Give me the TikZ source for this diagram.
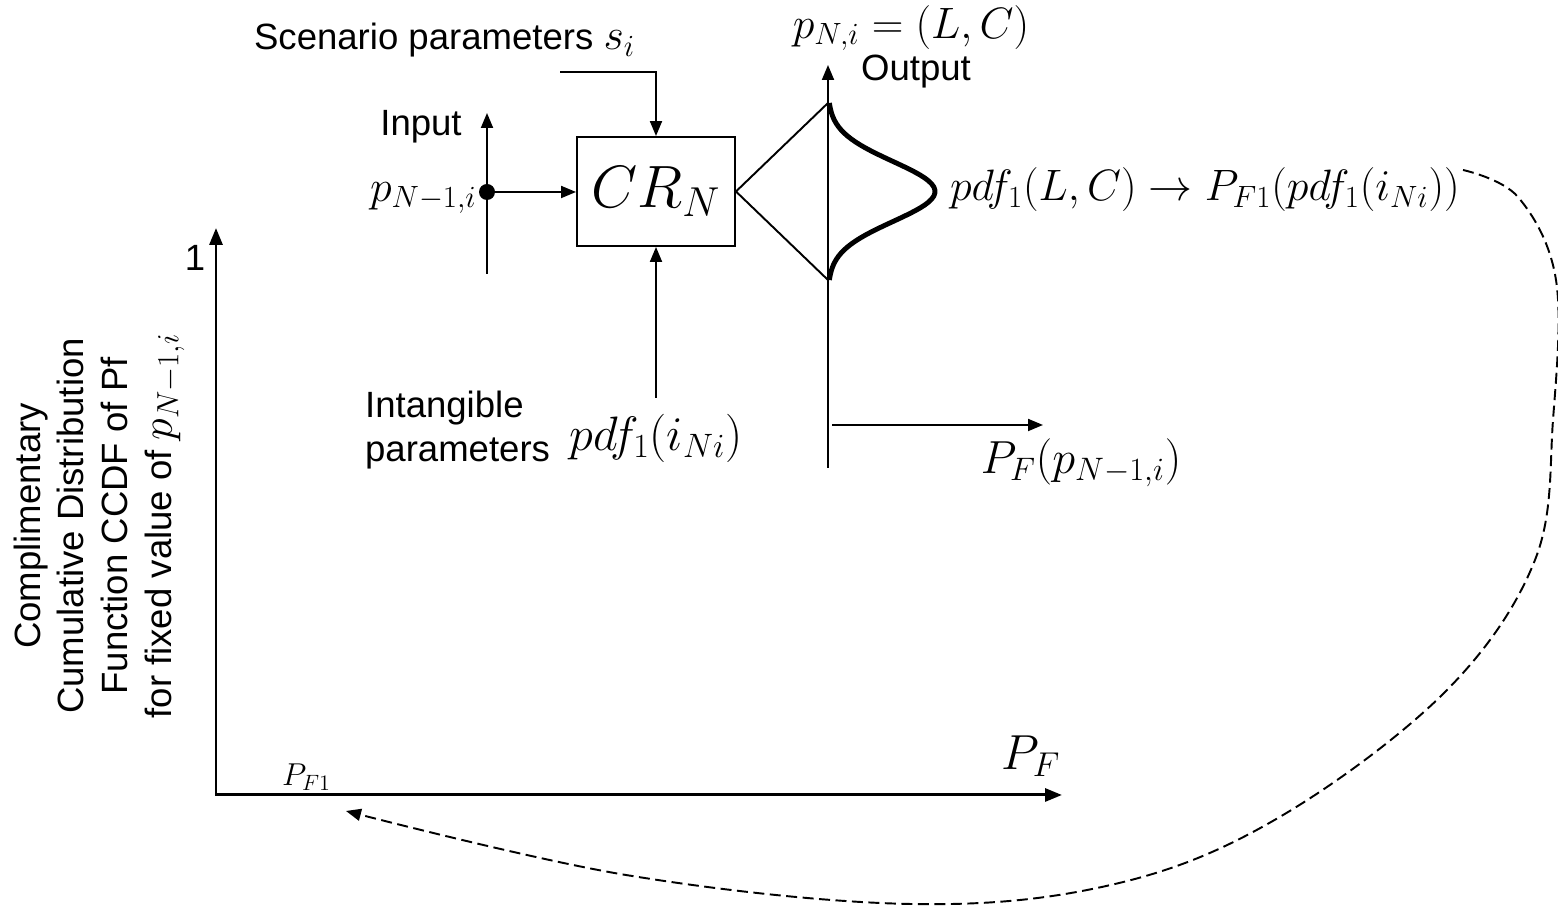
\RequirePackage{fix-cm}
\documentclass[tikz,border=0pt]{standalone}
\usepackage{fontspec}
\setmainfont{Liberation Sans}
\usepackage{amsmath}
\usetikzlibrary{shapes, arrows.meta, positioning, calc}

\begin{document}
\begin{tikzpicture}[
    box/.style={rectangle, draw=black, line width=1.1pt, minimum width=3.16cm, minimum height=2.18cm, text centered, inner sep=0pt},
    txt/.style={inner sep=1pt, font=\fontsize{20.8}{25}\selectfont},
    mth/.style={inner sep=1pt, font=\fontsize{25}{30}\selectfont},
    wire/.style={line width=1.1pt},
    arrow/.style={-{Triangle[length=3mm, width=2.4mm]}, line width=1.1pt},
    axis/.style={{Triangle[length=3.4mm, width=2.6mm]}-{Triangle[length=3.4mm, width=2.6mm]}, line width=1.7pt},
    dasharrow/.style={-{Triangle[length=3mm, width=2.4mm]}, line width=1.1pt, dash pattern=on 0.22cm off 0.11cm}
]
\useasboundingbox (0,0) rectangle (31.16,18.16);

% block and its inputs
\node (crn) [box] at (13.12,14.33) {\fontsize{34}{40}\selectfont $CR_N$};
\node (dot) [circle, fill=black, inner sep=0pt, minimum size=0.32cm] at (9.74,14.32) {};
\coordinate (inbot) at (9.74,12.68);
\coordinate (intop) at (9.74,15.9);
\node (inlbl) [txt] at (8.42,15.62) {Input};
\node (pin) [mth, left=0pt of dot, yshift=-0.12cm] {$p_{N-1,i}$};
\node (scen) [txt, anchor=west] at (5.04,17.36) {Scenario parameters {\fontsize{25}{30}\selectfont$s_i$}};
\coordinate (scenstart) at (11.2,16.72);
\coordinate (intbot) at (13.12,10.2);
\node (intlbl) [txt, align=left, anchor=west] at (7.26,9.55) {Intangible\\parameters};
\node (pdfi) [mth, font=\fontsize{27.5}{32}\selectfont] at (13.12,9.4) {$pdf_1(i_{Ni})$};
\draw [arrow] (inbot) -- (intop);
\draw [arrow] (dot) -- (dot -| crn.west);
\draw [arrow] (scenstart) -| (crn.north);
\draw [arrow] (intbot) -- (crn.south);

% output side
\coordinate (outbot) at (16.56,8.8);
\coordinate (outtop) at (16.56,16.86);
\coordinate (tritop) at (16.56,16.1);
\coordinate (tribot) at (16.56,12.56);
\draw [arrow] (outbot) -- (outtop);
\draw [wire] (tritop) -- (crn.east) -- (tribot);
\draw [line width=2.8pt] plot [variable=\t, domain=-1.77:1.77, samples=60] ({16.56+2.14*exp(-(\t/0.85)^2)}, {14.33+\t});
\node (outlbl) [txt] at (18.32,16.72) {Output};
\node (pni) [mth] at (18.22,17.6) {$p_{N,i} = (L,C)$};
\node (pdflc) [mth, anchor=west] at (18.96,14.36) {$pdf_1(L,C) \rightarrow P_{F1}(pdf_1(i_{Ni}))$};
\coordinate (pfstart) at (16.64,9.66);
\coordinate (pfend) at (20.86,9.66);
\draw [arrow] (pfstart) -- (pfend);
\node (pfp) [mth, font=\fontsize{26.4}{30}\selectfont] at (21.62,8.9) {$P_F(p_{N-1,i})$};

% CCDF axes
\coordinate (orig) at (4.32,2.26);
\coordinate (ytip) at (4.32,13.6);
\coordinate (xtip) at (21.24,2.26);
\draw [axis] (ytip) |- (xtip);
\node (one) [txt] at (3.9,13.0) {1};
\node (pfbig) [font=\fontsize{28}{32}\selectfont] at (20.62,3.04) {$P_F$};
\node (pf1) [font=\fontsize{18}{20}\selectfont] at (6.13,2.62) {$P_{F1}$};
\node (ylbl) [txt, align=center, rotate=90] at (1.98,7.64) {Complimentary\\Cumulative Distribution\\Function CCDF of Pf\\for fixed value of {\fontsize{25}{30}\selectfont$p_{N-1,i}$}};

% feedback
\coordinate (dstart) at (29.26,14.76);
\coordinate (dend) at (6.92,1.94);
\draw [dasharrow] plot [smooth, tension=0.6] coordinates {(dstart) (30.36,14.22) (31.12,12.56) (31.06,9.76) (30.7,6.96) (28.9,4.32) (25.56,1.80) (22.30,0.48) (18.22,0.08) (12.52,0.66) (dend)};
\end{tikzpicture}
\end{document}
